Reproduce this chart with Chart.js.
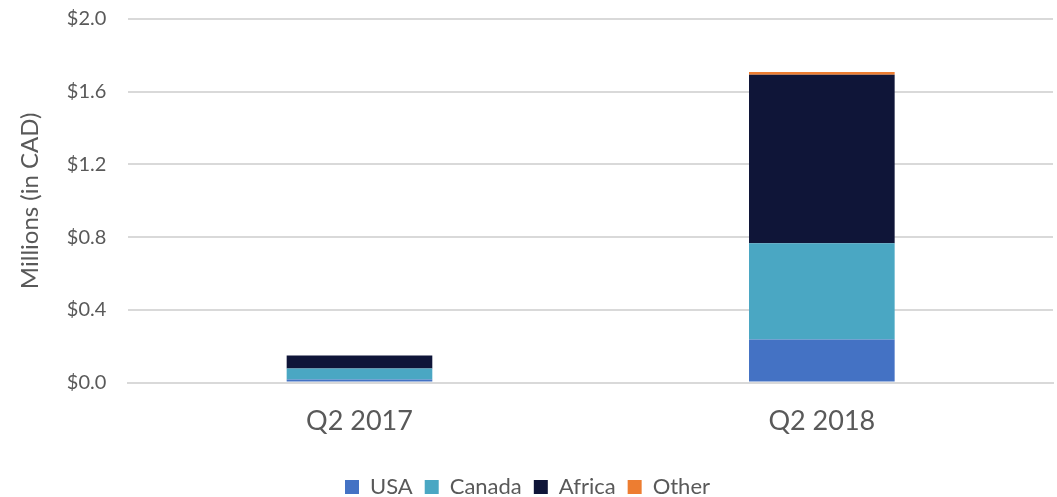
<!DOCTYPE html>
<html>
<head>
<meta charset="utf-8">
<script src="https://cdn.jsdelivr.net/npm/chart.js@4/dist/chart.umd.min.js"></script>
<style>
  html, body { margin: 0; padding: 0; background: #fff; overflow: hidden; }
  #wrap { width: 1057px; height: 523px; margin-top: -15px; position: relative; }
</style>
</head>
<body>
<div id="wrap"><canvas id="chart"></canvas></div>
<script>
const quarters = ['Q2 2017', 'Q2 2018'];
const usa = [0.017, 0.237];
const canada = [0.060, 0.529];
const africa = [0.072, 0.927];
const other = [0.0, 0.015];
const yTicks = [0, 0.4, 0.8, 1.2, 1.6, 2.0];

const textColor = '#595959';
const fontFamily = 'Lato, "Open Sans", sans-serif';

const ctx = document.getElementById('chart').getContext('2d');
new Chart(ctx, {
    type: 'bar',
    data: {
        labels: quarters,
        datasets: [
            { label: 'USA', data: usa, backgroundColor: '#4472C4' },
            { label: 'Canada', data: canada, backgroundColor: '#4AA7C3' },
            { label: 'Africa', data: africa, backgroundColor: '#0F1538' },
            { label: 'Other', data: other, backgroundColor: '#ED7D31' }
        ]
    },
    options: {
        responsive: true,
        maintainAspectRatio: false,
        animation: false,
        layout: { padding: { top: 0, right: 4, left: 2, bottom: 0 } },
        datasets: {
            bar: { barPercentage: 0.63, categoryPercentage: 0.5 }
        },
        plugins: {
            legend: {
                position: 'bottom',
                labels: {
                    boxWidth: 14,
                    boxHeight: 14,
                    padding: 12,
                    color: textColor,
                    font: { family: fontFamily, size: 22 }
                }
            },
            tooltip: { enabled: false }
        },
        scales: {
            x: {
                stacked: true,
                grid: { display: false },
                border: { color: '#d9d9d9', width: 2 },
                afterFit: scale => { scale.height += 13; },
                ticks: {
                    color: textColor,
                    padding: 14,
                    font: { family: fontFamily, size: 27 }
                }
            },
            y: {
                stacked: true,
                min: 0,
                max: 2,
                afterBuildTicks: axis => {
                    axis.ticks = yTicks.map(v => ({ value: v }));
                },
                grid: { color: '#d9d9d9', lineWidth: 2, drawTicks: false },
                border: { display: false },
                ticks: {
                    color: textColor,
                    padding: 22,
                    font: { family: fontFamily, size: 20 },
                    callback: v => '$' + Number(v).toFixed(1)
                },
                title: {
                    display: true,
                    text: 'Millions (in CAD)',
                    color: textColor,
                    padding: { top: 14, bottom: 0 },
                    font: { family: fontFamily, size: 24 }
                }
            }
        }
    }
});
</script>
</body>
</html>
